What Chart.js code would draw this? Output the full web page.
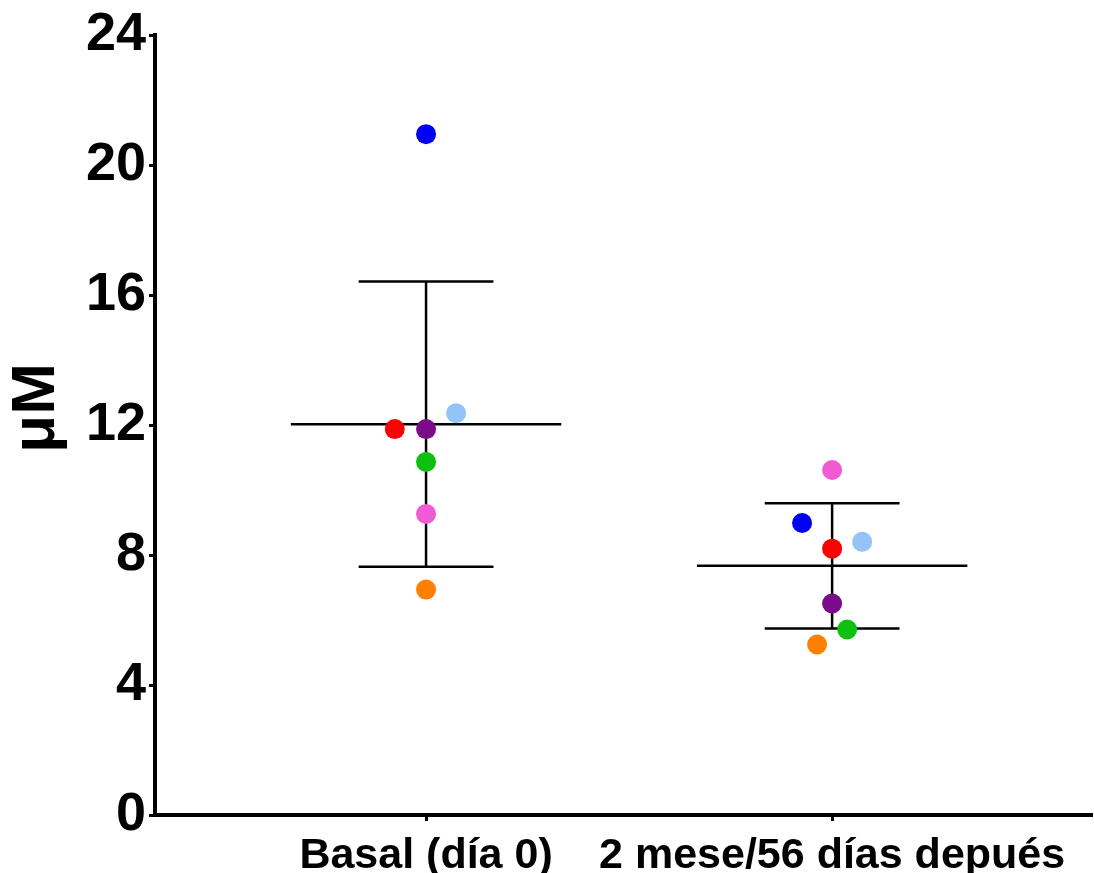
<!DOCTYPE html>
<html>
<head>
<meta charset="utf-8">
<script src="https://cdn.jsdelivr.net/npm/chart.js@4/dist/chart.umd.min.js"></script>
<style>
  html, body { margin: 0; padding: 0; background: #fff; }
  #wrap { width: 1094px; height: 873px; }
</style>
</head>
<body>
<div id="wrap"><canvas id="c" width="1094" height="873"></canvas></div>
<script>
// ---- data ----
const categories = ['Basal (día 0)', '2 mese/56 días depués'];
const categoryPositions = [1, 2];
const yTicks = [0, 4, 8, 12, 16, 20, 24];
const subjectColors = ['#0000F5', '#94C3F5', '#FF0000', '#7A0C8A', '#10C010', '#F05AD2', '#FF8000'];
const basalValues = [20.96, 12.37, 11.88, 11.88, 10.87, 9.27, 6.94];
const afterValues = [8.99, 8.41, 8.20, 6.51, 5.71, 10.62, 5.25];
const basalJitter = [0, 0.074, -0.077, 0, 0, 0, 0];
const afterJitter = [-0.074, 0.074, 0, 0, 0.037, 0, -0.037];
const meanValues = [12.03, 7.67];
const sdValues = [4.39, 1.93];

const FONT = "'Liberation Sans', Arial, Helvetica, sans-serif";
const meanHalf = 0.333, capHalf = 0.166;

const datasets = [];
// subject points
subjectColors.forEach((col, i) => {
  datasets.push({
    type: 'scatter',
    data: [
      { x: categoryPositions[0] + basalJitter[i], y: basalValues[i] },
      { x: categoryPositions[1] + afterJitter[i], y: afterValues[i] }
    ],
    backgroundColor: col,
    borderWidth: 0,
    pointRadius: 10,
    pointHoverRadius: 10,
    order: 1
  });
});
// mean +/- SD lines
function seg(x1, y1, x2, y2) {
  datasets.push({
    type: 'line',
    data: [{ x: x1, y: y1 }, { x: x2, y: y2 }],
    borderColor: '#000',
    borderWidth: 2.5,
    pointRadius: 0,
    fill: false,
    order: 2
  });
}
categoryPositions.forEach((cx, g) => {
  const m = meanValues[g], s = sdValues[g];
  seg(cx - meanHalf, m, cx + meanHalf, m);
  seg(cx, m - s, cx, m + s);
  seg(cx - capHalf, m + s, cx + capHalf, m + s);
  seg(cx - capHalf, m - s, cx + capHalf, m - s);
});

new Chart(document.getElementById('c'), {
  type: 'scatter',
  data: { datasets },
  options: {
    responsive: false,
    animation: false,
    layout: { autoPadding: false, padding: { top: 33, right: 2, left: 0, bottom: 0 } },
    plugins: { legend: { display: false }, tooltip: { enabled: false } },
    scales: {
      x: {
        type: 'linear',
        min: 0.3325,
        max: 2.640,
        afterBuildTicks: (scale) => { scale.ticks = categoryPositions.map(v => ({ value: v })); },
        afterFit: (scale) => { scale.height = 58; },
        ticks: {
          autoSkip: false,
          maxRotation: 0,
          padding: 9,
          color: '#000',
          font: { family: FONT, size: 43, weight: 'bold' },
          callback: (v) => { const i = categoryPositions.indexOf(v); return i >= 0 ? categories[i] : ''; }
        },
        grid: { drawOnChartArea: false, drawTicks: true, tickLength: 6, tickWidth: 3, color: '#000' },
        border: { display: true, color: '#000', width: 4 }
      },
      y: {
        type: 'linear',
        min: 0,
        max: 24,
        afterBuildTicks: (scale) => { scale.ticks = yTicks.map(v => ({ value: v })); },
        afterFit: (scale) => { scale.width = 155; },
        ticks: {
          padding: 3,
          color: '#000',
          font: { family: FONT, size: 54, weight: 'bold' }
        },
        grid: { drawOnChartArea: false, drawTicks: true, tickLength: 6, tickWidth: 3, color: '#000' },
        border: { display: true, color: '#000', width: 4 },
        title: {
          display: true,
          text: '\u00A0\u00A0μM',
          color: '#000',
          padding: 0,
          font: { family: FONT, size: 62, weight: 'bold' }
        }
      }
    }
  }
});
</script>
</body>
</html>
